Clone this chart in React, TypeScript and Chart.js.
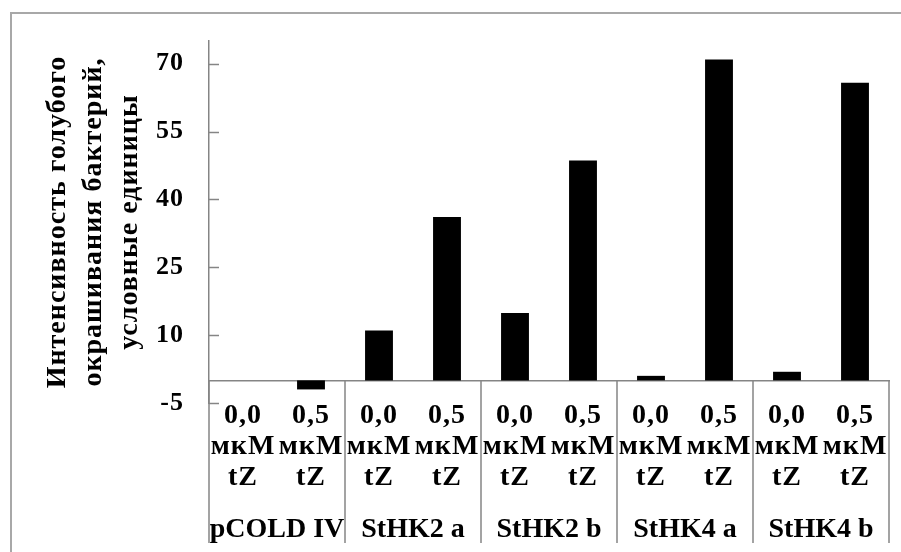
import React, { useEffect, useRef } from "react";
import { Chart, registerables } from "chart.js";

Chart.register(...registerables);

// ---- data ----
const groups = ["pCOLD IV", "StHK2 a", "StHK2 b", "StHK4 a", "StHK4 b"];
const doses = ["0,0", "0,5"];
const unitLines = ["мкМ", "tZ"];
const values = [0, -2, 11.0, 36.1, 14.9, 48.6, 1.0, 70.9, 1.9, 65.8];
const yTicks = [-5, 10, 25, 40, 55, 70];
const yMin = -5;
const yMax = 75;
const yTitle = ["Интенсивность голубого", "окрашивания бактерий,", "условные единицы"];

const categories = groups.flatMap(() => doses.map((d) => [d, ...unitLines]));

const FONT = "'Liberation Serif', 'Times New Roman', serif";
const GRAY = "#858585";

const spacingPlugin = {
  id: "spacing",
  beforeUpdate(chart: any) {
    chart.ctx.letterSpacing = "1px";
  },
  beforeDraw(chart: any) {
    chart.ctx.letterSpacing = "1px";
  },
};

const decorPlugin = {
  id: "decor",
  beforeDraw(chart: any) {
    const ctx = chart.ctx;
    ctx.save();
    ctx.fillStyle = "#fff";
    ctx.fillRect(0, 0, chart.width, chart.height);
    ctx.strokeStyle = "#a8a8a8";
    ctx.lineWidth = 2;
    ctx.strokeRect(11, 13, 1000, 1000);
    ctx.restore();
  },
  afterDraw(chart: any) {
    const ctx = chart.ctx;
    const xs = chart.scales.x;
    const ys = chart.scales.y;
    const area = chart.chartArea;
    ctx.save();
    ctx.strokeStyle = GRAY;
    ctx.lineWidth = 1.5;
    // inside tick marks on the value axis
    for (const t of ys.ticks) {
      const py = Math.round(ys.getPixelForValue(t.value)) + 0.5;
      ctx.beginPath();
      ctx.moveTo(area.left, py);
      ctx.lineTo(area.left + 10, py);
      ctx.stroke();
    }
    // group dividers
    const zeroY = ys.getPixelForValue(0);
    const per = doses.length;
    for (let g = 0; g <= groups.length; g++) {
      const px = xs.getPixelForValue(g * per - 0.5);
      ctx.beginPath();
      ctx.moveTo(px, zeroY);
      ctx.lineTo(px, 543);
      ctx.stroke();
    }
    // group labels
    ctx.letterSpacing = "0px";
    ctx.fillStyle = "#000";
    ctx.font = `bold 28px ${FONT}`;
    ctx.textAlign = "center";
    ctx.textBaseline = "middle";
    groups.forEach((name, g) => {
      const a = xs.getPixelForValue(g * per - 0.5);
      const b = xs.getPixelForValue(g * per + per - 0.5);
      ctx.fillText(name, (a + b) / 2, 530);
    });
    ctx.restore();
  },
};

export default function App() {
  const ref = useRef<HTMLCanvasElement | null>(null);
  useEffect(() => {
    if (!ref.current) return;
    const chart = new Chart(ref.current, {
      type: "bar",
      data: {
        labels: categories as any,
        datasets: [
          {
            data: values,
            backgroundColor: "#000",
            borderWidth: 0,
            categoryPercentage: 1,
            barPercentage: 0.41,
          },
        ],
      },
      options: {
        animation: false,
        responsive: true,
        maintainAspectRatio: false,
        devicePixelRatio: 1,
        layout: { padding: { top: 41, right: 12, bottom: 149, left: 0 } },
        plugins: { legend: { display: false }, tooltip: { enabled: false } },
        scales: {
          x: {
            type: "category",
            position: { y: 0 } as any,
            afterFit: (scale: any) => {
              scale.paddingLeft = 0;
              scale.paddingRight = 0;
            },
            grid: { display: false, drawTicks: false },
            border: { display: true, color: GRAY, width: 1.5 },
            ticks: {
              autoSkip: false,
              maxRotation: 0,
              minRotation: 0,
              padding: 20,
              color: "#000",
              font: { family: FONT, size: 28, weight: "bold", lineHeight: 31 / 28 },
            },
          },
          y: {
            type: "linear",
            min: yMin,
            max: yMax,
            afterBuildTicks: (axis: any) => {
              axis.ticks = yTicks.map((v) => ({ value: v }));
            },
            afterFit: (scale: any) => {
              scale.width = 209;
            },
            grid: { display: false, drawTicks: false },
            border: { display: true, color: GRAY, width: 1.5 },
            ticks: {
              padding: 25,
              color: "#000",
              font: { family: FONT, size: 26, weight: "bold" },
            },
            title: {
              display: true,
              text: yTitle,
              color: "#000",
              padding: { top: 40, bottom: 0 },
              font: { family: FONT, size: 28, weight: "bold", lineHeight: 36 / 28 },
            },
          },
        },
      },
      plugins: [spacingPlugin, decorPlugin],
    });
    return () => chart.destroy();
  }, []);
  return (
    <div
      style={{
        position: "fixed",
        left: 0,
        top: 0,
        width: 901,
        height: 552,
        background: "#fff",
      }}
    >
      <canvas ref={ref} />
    </div>
  );
}
